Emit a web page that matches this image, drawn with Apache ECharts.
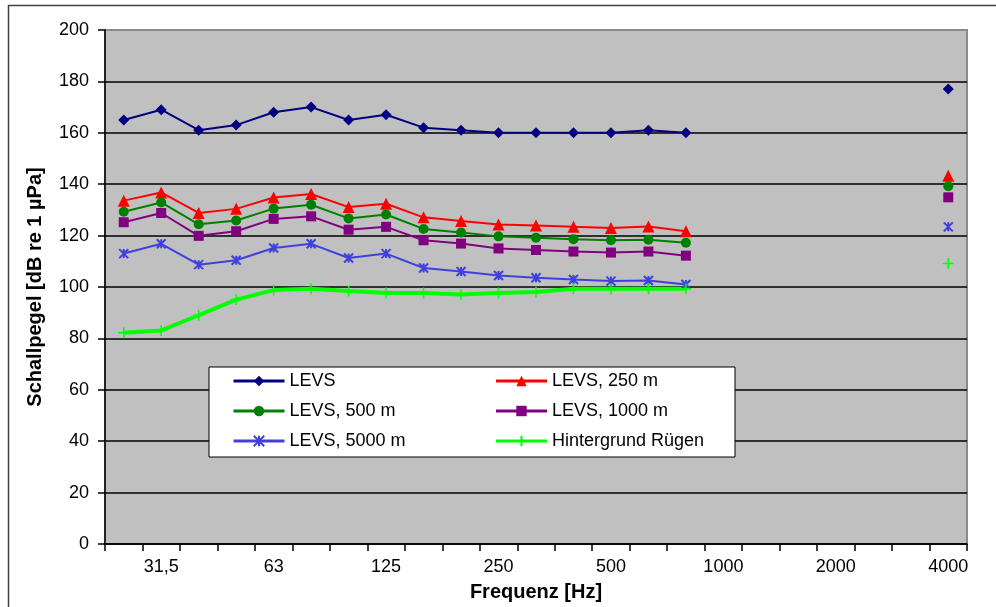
<!DOCTYPE html>
<html>
<head>
<meta charset="utf-8">
<script src="https://cdn.jsdelivr.net/npm/echarts@6/dist/echarts.min.js"></script>
<style>
html,body{margin:0;padding:0;background:#fff;}
#chart{width:996px;height:607px;}
</style>
</head>
<body>
<div id="chart"></div>
<script>
var categories = ['25','31,5','40','50','63','80','100','125','160','200','250','315','400','500','630','800','1000','1250','1600','2000','2500','3150','4000'];
var yTicks = [0,20,40,60,80,100,120,140,160,180,200];
var N = null;
var levs     = [165,169,161,163,168,170,165,167,162,161,160,160,160,160,161,160, N,N,N,N,N,N, 177];
var levs250  = [133.6,136.8,128.8,130.4,134.8,136.2,131.1,132.4,127.1,125.7,124.3,123.9,123.4,123,123.5,121.7, N,N,N,N,N,N, 143.3];
var levs500  = [129.3,132.9,124.4,125.9,130.5,132,126.7,128.2,122.6,121.2,119.7,119.2,118.6,118.2,118.4,117.2, N,N,N,N,N,N, 139.2];
var levs1000 = [125.2,128.8,119.9,121.7,126.5,127.5,122.3,123.4,118.2,116.9,115,114.4,113.8,113.4,113.8,112.2, N,N,N,N,N,N, 134.9];
var levs5000 = [113,116.8,108.7,110.4,115.2,116.8,111.3,113,107.4,106,104.5,103.6,102.9,102.3,102.5,101, N,N,N,N,N,N, 123.4];
var ruegen   = [82.2,83.1,89,95.1,98.8,99.3,98.4,97.7,97.7,97.1,97.7,98.1,99.3,99.3,99.3,99.3, N,N,N,N,N,N, 109.1];
var seriesNames = ['LEVS','LEVS, 250 m','LEVS, 500 m','LEVS, 1000 m','LEVS, 5000 m','Hintergrund Rügen'];

var FONT = "'Liberation Sans', Arial, sans-serif";
var chart = echarts.init(document.getElementById('chart'), null, {renderer:'canvas'});

function mk(name, data, color, symbol, size, lw, extra){
  var s = {
    name: name, type: 'line', data: data,
    symbol: symbol, symbolSize: size, showSymbol: true, showAllSymbol: true,
    connectNulls: false,
    lineStyle: {color: color, width: lw},
    itemStyle: {color: color},
    emphasis: {disabled: true},
    z: 3
  };
  if (extra) { for (var k in extra) s[k] = extra[k]; }
  return s;
}

var option = {
  animation: false,
  backgroundColor: '#ffffff',
  textStyle: {fontFamily: FONT},
  grid: {left: 105, right: 29, top: 30, bottom: 62, show: true, backgroundColor: '#c0c0c0', borderColor: '#8a8a8a', borderWidth: 2},
  legend: {
    left: 209, top: 367,
    width: 500,
    orient: 'horizontal',
    backgroundColor: '#ffffff',
    borderColor: '#000000', borderWidth: 1,
    padding: [4, 3, 6, 23],
    itemWidth: 51, itemHeight: 13,
    itemGap: 10,
    lineStyle: {width: 3},
    textStyle: {fontFamily: FONT, fontSize: 18, color: '#000', lineHeight: 20},
    data: [
      {name: seriesNames[0], textStyle: {width: 195}},
      {name: seriesNames[1], textStyle: {width: 180}},
      {name: seriesNames[2], textStyle: {width: 195}},
      {name: seriesNames[3], textStyle: {width: 180}},
      {name: seriesNames[4], textStyle: {width: 195}},
      {name: seriesNames[5], textStyle: {width: 180}}
    ]
  },
  xAxis: {
    type: 'category', data: categories, boundaryGap: true,
    name: 'Frequenz [Hz]', nameLocation: 'middle', nameGap: 38,
    nameTextStyle: {fontFamily: FONT, fontSize: 20, fontWeight: 'bold', color: '#000'},
    axisLine: {show: true, lineStyle: {color: '#000', width: 1.5}},
    axisTick: {show: true, interval: 0, length: 7, inside: false, lineStyle: {color: '#000', width: 1.5}},
    axisLabel: {interval: function(i){return i % 3 === 1;}, margin: 14, fontFamily: FONT, fontSize: 18, color: '#000'},
    splitLine: {show: false}
  },
  yAxis: {
    type: 'value', min: 0, max: 200, interval: 20,
    name: 'Schallpegel [dB re 1 µPa]', nameLocation: 'middle', nameGap: 60,
    nameTextStyle: {fontFamily: FONT, fontSize: 20, fontWeight: 'bold', color: '#000'},
    axisLine: {show: true, lineStyle: {color: '#000', width: 1.5}},
    axisTick: {show: true, length: 7, lineStyle: {color: '#000', width: 1.5}},
    axisLabel: {margin: 16, fontFamily: FONT, fontSize: 18, color: '#000',
      formatter: function(v){ return yTicks.indexOf(v) >= 0 ? String(v) : ''; }},
    splitLine: {show: true, showMaxLine: false, lineStyle: {color: '#000', width: 1.5}}
  },
  graphic: [{
    type: 'rect', left: 6, top: 3, z: 100, silent: true,
    shape: {width: 1010, height: 630},
    style: {fill: 'none', stroke: '#404040', lineWidth: 1.5}
  }],
  series: [
    mk(seriesNames[0], levs, '#000080', 'diamond', 11, 2),
    mk(seriesNames[1], levs250, '#ff0000', 'triangle', 12, 2),
    mk(seriesNames[2], levs500, '#008000', 'circle', 10, 2),
    mk(seriesNames[3], levs1000, '#800080', 'rect', 10, 2),
    mk(seriesNames[4], levs5000, '#4040dd', 'path://M0,0L10,10M10,0L0,10M5,0L5,10', 9, 2,
       {itemStyle: {color: 'rgba(0,0,0,0)', borderColor: '#4040dd', borderWidth: 2}}),
    mk(seriesNames[5], ruegen, '#00ff00', 'path://M5,0L5,10M0,5L10,5', 11, 4,
       {itemStyle: {color: 'rgba(0,0,0,0)', borderColor: '#00ff00', borderWidth: 1.5}})
  ]
};
chart.setOption(option);
</script>
</body>
</html>
